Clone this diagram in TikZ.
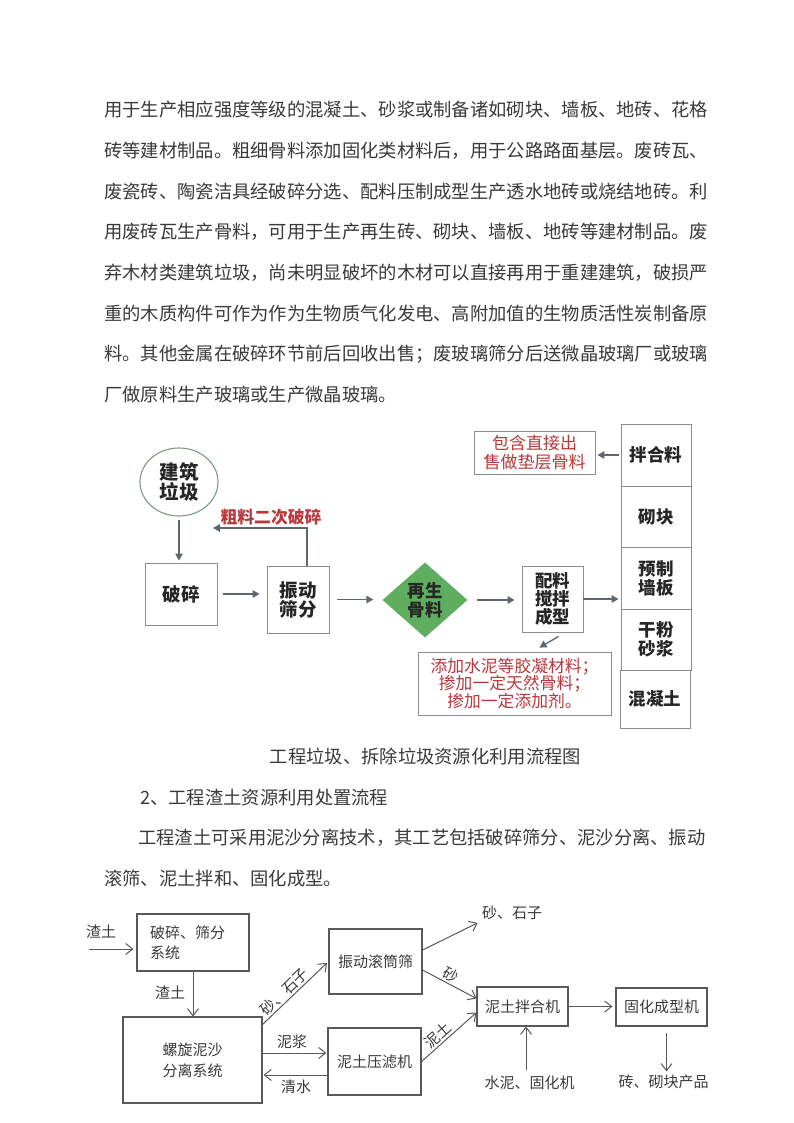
\documentclass[tikz,border=0pt]{standalone}
\usepackage{fontspec}
\newfontfamily\cjk{Noto Sans CJK SC}
\usetikzlibrary{shapes.geometric,arrows.meta,calc}
\definecolor{redtxt}{HTML}{B8383B}
\definecolor{arrg}{HTML}{5E6573}
\definecolor{boxg}{HTML}{8C8C8C}
\definecolor{circg}{HTML}{7F9A84}
\definecolor{dia}{HTML}{5FAE5F}
\definecolor{ink}{HTML}{262626}
\definecolor{ink2}{HTML}{3A3A3A}
\begin{document}
\begin{tikzpicture}[x=1pt,y=-1pt,
  body/.style={font={\cjk\fontsize{18.3}{20}\selectfont}, anchor=west, inner sep=0, text=ink2},
  b1/.style={draw=boxg, line width=0.9, fill=white, inner sep=0, align=center, text=ink,
    font={\cjk\bfseries\fontsize{18.5}{19}\selectfont}},
  c1s/.style={b1, minimum width=70, font={\cjk\bfseries\fontsize{17.5}{19}\selectfont}},
  a1/.style={draw=arrg, line width=1.6, -{Triangle[length=7pt,width=7.5pt]}},
  rl/.style={text=redtxt, align=center, inner sep=0, font={\cjk\fontsize{16.8}{17.6}\selectfont}},
  b2/.style={draw=black!65, line width=1.1, inner sep=0, align=center, text=ink2,
    font={\cjk\fontsize{15}{21}\selectfont}},
  l2/.style={text=ink2, inner sep=1.5, font={\cjk\fontsize{15}{18}\selectfont}},
  a2/.style={draw=black!65, line width=1, -{Straight Barb[length=7pt,width=11pt]}}
]
\fill[white] (0,0) rectangle (793,1123);
\useasboundingbox (0,0) rectangle (793,1123);

% ---- body text ----
\node[body] (t1) at (104,110) {用于生产相应强度等级的混凝土、砂浆或制备诸如砌块、墙板、地砖、花格};
\node[body] (t2) at (104,150.7) {砖等建材制品。粗细骨料添加固化类材料后，用于公路路面基层。废砖瓦、};
\node[body] (t3) at (104,191.4) {废瓷砖、陶瓷洁具经破碎分选、配料压制成型生产透水地砖或烧结地砖。利};
\node[body] (t4) at (104,232.1) {用废砖瓦生产骨料，可用于生产再生砖、砌块、墙板、地砖等建材制品。废};
\node[body] (t5) at (104,272.8) {弃木材类建筑垃圾，尚未明显破坏的木材可以直接再用于重建建筑，破损严};
\node[body] (t6) at (104,313.5) {重的木质构件可作为作为生物质气化发电、高附加值的生物质活性炭制备原};
\node[body] (t7) at (104,354.2) {料。其他金属在破碎环节前后回收出售；废玻璃筛分后送微晶玻璃厂或玻璃};
\node[body] (t8) at (104,394.9) {厂做原料生产玻璃或生产微晶玻璃。};

% ---- diagram 1 ----
\node[ellipse, draw=circg, line width=1.1, minimum width=78, minimum height=68, inner sep=0,
  align=center, text=ink, font={\cjk\bfseries\fontsize{19.5}{20}\selectfont}] (lj) at (179,482) {建筑\\垃圾};
\node[b1, minimum width=72, minimum height=62] (ps) at (181,594) {破碎};
\node[b1, minimum width=62, minimum height=67] (zd) at (298,599.5) {振动\\筛分};
\node[diamond, fill=dia, minimum width=85, minimum height=75, inner sep=0, align=center, text=ink,
  font={\cjk\bfseries\fontsize{17.5}{19}\selectfont}] (zs) at (425,600) {再生\\骨料};
\node[b1, minimum width=61, minimum height=66, font={\cjk\bfseries\fontsize{17.5}{18.3}\selectfont}] (pl) at (552.5,599) {配料\\搅拌\\成型};
\node[c1s, minimum height=62] (c1) at (656,455) {拌合料};
\node[c1s, minimum height=61] (c2) at (656,516.5) {砌块};
\node[c1s, minimum height=62] (c3) at (656,578) {预制\\墙板};
\node[c1s, minimum height=61] (c4) at (656,639.5) {干粉\\砂浆};
\node[c1s, minimum height=58] (c5) at (655,699) {混凝土};
\node[rl, draw=boxg, line width=0.9, minimum width=121, minimum height=43,
  font={\cjk\fontsize{17}{19}\selectfont}] (bh) at (534.5,452.5) {包含直接出\\售做垫层骨料};
\node[rl, draw=boxg, line width=0.9, minimum width=193, minimum height=63] (tj) at (514.5,683.5)
  {添加水泥等胶凝材料；\\掺加一定天然骨料；\\掺加一定添加剂。};
\node[rl, font={\cjk\bfseries\fontsize{16.8}{18}\selectfont}] (cl) at (271,517) {粗料二次破碎};

\draw[a1, shorten <=3pt, shorten >=2pt] (lj.south) -- (lj.south |- ps.north);
\draw[a1, shorten <=6pt, shorten >=7pt] (ps.east) -- (ps.east -| zd.west);
\coordinate (fz) at ([xshift=9pt]zd.north);
\coordinate (fb) at (213,528);
\draw[a1] (fz) -- (fz |- fb) -- (fb);
\draw[a1, shorten <=8pt, shorten >=9pt] (zd.east) -- (zd.east -| zs.west);
\draw[a1, shorten <=9pt, shorten >=7pt] (zs.east) -- (zs.east -| pl.west);
\draw[a1, shorten >=2pt] (pl.east) -- (pl.east -| c3.west);
\draw[a1, shorten <=2pt, shorten >=2pt] (c1.west) -- (c1.west -| bh.east);
\draw[a1, line width=1.3] ([shift={(6,4)}]pl.south) -- ([shift={(25,-4)}]tj.north);

\node[body, anchor=center] (cap) at (425.5,757) {工程垃圾、拆除垃圾资源化利用流程图};
\node[body] (h2) at (140,798) {2、工程渣土资源利用处置流程};
\node[body] (p1) at (138,838) {工程渣土可采用泥沙分离技术，其工艺包括破碎筛分、泥沙分离、振动};
\node[body] (p2) at (104,879) {滚筛、泥土拌和、固化成型。};

% ---- diagram 2 ----
\node[b2, minimum width=112, minimum height=57, text width=86, inner xsep=13, align=left,
  font={\cjk\fontsize{15}{20}\selectfont}] (sb) at (193,942.5) {破碎、筛分\\系统};
\node[b2, minimum width=139, minimum height=86] (lx) at (192.5,1060) {螺旋泥沙\\分离系统};
\node[b2, minimum width=93, minimum height=65] (zdg) at (375.5,961.5) {振动滚筒筛};
\node[b2, minimum width=93, minimum height=67] (ylj) at (374.5,1061.5) {泥土压滤机};
\node[b2, minimum width=91, minimum height=39] (hb) at (522.5,1006.5) {泥土拌合机};
\node[b2, minimum width=91, minimum height=38] (gh) at (661.5,1007) {固化成型机};

\node[l2] (zt1) at (101,932) {渣土};
\node[l2] (zt2) at (170,993) {渣土};
\node[l2] (ss) at (512,913) {砂、石子};
\node[l2] (sn) at (529.5,1083) {水泥、固化机};
\node[l2] (zk) at (663.5,1082) {砖、砌块产品};
\node[l2] (nj) at (292,1042) {泥浆};
\node[l2] (qs) at (296,1087) {清水};

\coordinate (zin) at (89,949);
\draw[a2, shorten >=3pt] (zin) -- (zin -| sb.west);
\draw[a2] (sb.south) -- (sb.south |- lx.north);
\coordinate (d1) at ([yshift=-8pt]lx.north east);
\draw[a2, shorten >=2pt] (d1) -- node[l2, pos=0.42, above, sloped] {砂、石子} (zdg.west);
\coordinate (mj) at ([yshift=7pt]lx.east);
\draw[a2, shorten >=1pt] (mj) -- (mj -| ylj.west);
\coordinate (qw) at ([yshift=-13.5pt]ylj.west);
\draw[a2, shorten >=1pt] (qw) -- (qw -| lx.east);
\coordinate (s1) at ([yshift=11.5pt]zdg.east);
\draw[a2, shorten >=3pt] (s1) -- (ss.south west);
\coordinate (s2) at ([yshift=-8.5pt]zdg.east);
\draw[a2] (s2) -- node[l2, pos=0.45, above, sloped] {砂} ([yshift=8pt]hb.west);
\draw[a2] (ylj.east) -- node[l2, pos=0.4, above, sloped] {泥土} ([yshift=-6pt]hb.west);
\draw[a2, shorten >=3pt] (hb.east) -- (hb.east -| gh.west);
\draw[a2, shorten <=4pt] ([xshift=-3.5pt]sn.north) -- ([xshift=-3.5pt]sn.north |- hb.south);
\draw[a2, shorten <=6pt, shorten >=2pt] ([xshift=5pt]gh.south) -- ([xshift=5pt]gh.south |- zk.north);
\end{tikzpicture}
\end{document}
